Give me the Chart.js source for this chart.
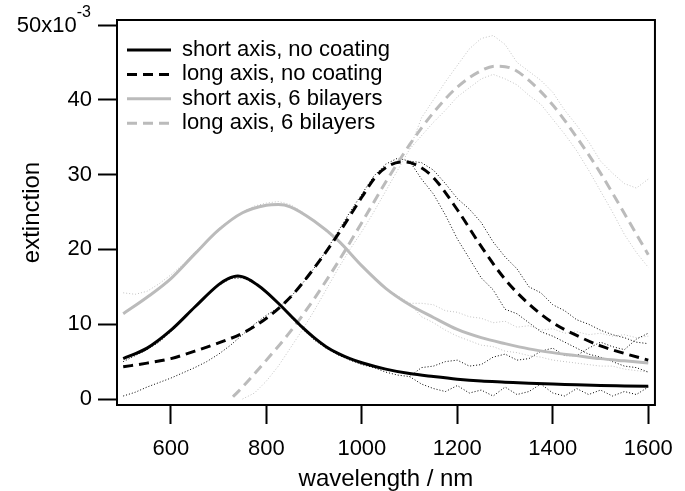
<!DOCTYPE html>
<html>
<head>
<meta charset="utf-8">
<script src="https://cdn.jsdelivr.net/npm/chart.js@4.4.0/dist/chart.umd.min.js"></script>
<style>
html, body { margin: 0; padding: 0; background: #fff; }
</style>
</head>
<body>
<canvas id="myChart" width="685" height="491"></canvas>
<script>
// fitted curves
var shortNoCoatX = [500,550,600,650,700,720,740,760,780,800,825,850,875,900,925,950,975,1000,1050,1100,1150,1200,1250,1300,1350,1400,1450,1500,1550,1600];
var shortNoCoatY = [5.4,6.8,9.2,12.3,15.3,16.1,16.45,16.1,15.3,14.3,12.8,11.2,9.6,8.2,7.0,6.1,5.4,4.85,4.0,3.4,3.0,2.65,2.4,2.25,2.1,2.0,1.9,1.8,1.75,1.7];

var longNoCoatX = [500,550,600,650,700,750,800,850,900,950,1000,1030,1060,1090,1120,1150,1200,1250,1300,1350,1400,1450,1500,1550,1600];
var longNoCoatY = [4.3,4.8,5.4,6.4,7.5,8.8,10.8,13.6,17.5,22.0,27.0,29.8,31.3,31.7,31.1,29.6,25.3,20.4,16.0,12.7,10.2,8.5,7.1,6.1,5.2];

var shortBilayerX = [500,550,600,650,700,750,800,825,850,900,950,1000,1050,1100,1150,1200,1250,1300,1350,1400,1450,1500,1550,1600];
var shortBilayerY = [11.4,13.6,16.1,19.4,22.6,24.9,25.9,26.0,25.7,23.8,21.2,17.8,14.8,12.6,10.9,9.3,8.2,7.4,6.7,6.2,5.8,5.4,5.1,4.8];

var longBilayerX = [730,750,800,850,900,950,1000,1050,1100,1150,1200,1250,1280,1310,1350,1400,1450,1500,1550,1600];
var longBilayerY = [0.3,1.6,5.2,9.0,13.4,18.3,23.6,29.0,34.0,38.3,41.7,43.9,44.5,44.3,42.6,39.3,35.0,30.2,24.8,19.3];

// measured spectra, clean part
var measX = [500,525,550,575,600,625,650,675,700,725,750,775,800,825,850,875,900,925,950,975,1000,1025,1050,1075,1100];
var shortNoCoatMeas = [5.0,5.8,6.6,7.6,9.0,10.6,12.2,14.0,15.2,16.1,16.2,15.5,14.2,12.8,11.0,9.4,7.9,6.8,5.9,5.2,4.6,4.2,3.6,3.2,3.0];
var longNoCoatMeas = [0.4,0.9,1.6,2.2,2.8,3.5,4.2,5.0,6.0,7.2,8.6,10.0,11.2,12.2,13.6,15.4,17.5,19.8,22.4,25.0,27.4,29.8,31.4,32.2,31.8];
var shortBilayerMeas = [14.2,14.0,14.4,15.4,16.6,18.0,19.6,21.2,22.8,24.0,25.0,25.8,26.2,26.4,26.0,25.0,23.8,22.4,21.0,19.4,17.8,16.2,14.8,13.8,12.8];
var longBilayerMeasX = [750,775,800,825,850,875,900,925,950,975,1000,1025,1050,1075,1100];
var longBilayerMeas = [0.0,0.8,2.4,4.4,6.8,9.2,11.8,14.6,17.4,20.0,22.4,25.0,27.8,30.6,33.4];

// measured spectra, noisy part (upper and lower traces)
var noiseX = [1100,1125,1150,1175,1200,1225,1250,1275,1300,1325,1350,1375,1400,1425,1450,1475,1500,1525,1550,1575,1600];
var shortNoCoatLow = [3.0,2.0,1.4,1.0,1.8,0.8,1.2,0.4,1.6,0.6,1.0,2.0,0.8,0.4,1.4,0.6,1.2,0.4,1.0,0.6,1.6];
var shortNoCoatHigh = [3.0,4.2,4.4,5.0,5.2,4.4,4.6,5.6,6.0,5.2,5.4,6.4,6.8,5.8,5.8,6.8,7.6,7.0,6.6,8.0,8.8];
var longNoCoatHigh = [31.8,31.6,30.6,28.8,26.8,25.4,23.6,21.0,19.0,17.4,15.0,14.2,12.6,11.8,10.6,10.0,9.2,8.6,8.2,7.6,7.4];
var longNoCoatLow = [31.8,29.4,27.4,24.6,21.4,18.8,16.2,14.6,12.0,11.4,10.2,9.0,8.4,7.6,6.8,6.0,5.6,5.0,4.4,4.2,3.6];
var shortBilayerHigh = [12.8,12.8,12.6,11.8,11.6,11.0,10.8,10.2,10.4,9.6,9.8,9.2,9.4,8.8,9.0,8.6,8.8,8.4,8.6,8.2,8.4];
var shortBilayerLow = [12.8,11.0,10.2,9.2,8.4,7.8,7.2,7.0,6.4,6.2,5.8,5.6,5.2,5.0,4.8,4.6,4.4,4.4,4.0,3.8,3.6];
var longBilayerHigh = [33.4,37.6,40.0,42.4,44.6,46.8,48.2,48.6,47.4,45.0,43.8,42.6,41.0,38.6,36.6,34.4,31.8,30.2,28.8,28.2,29.4];
var longBilayerLow = [33.4,35.2,37.0,38.6,40.4,41.6,42.8,43.4,42.8,42.0,40.6,39.4,37.4,35.4,33.2,30.6,27.8,25.0,22.0,19.6,17.6];

var xTicks = [600,800,1000,1200,1400,1600];
var yTicks = [0,10,20,30,40,50];

var font = '"Liberation Sans", Arial, Helvetica, sans-serif';
var grayFit = '#bbbbbb';
var grayDots = '#c2c2c2';

function toPoints(xs, ys) {
	var pts = [];
	for (var i = 0; i < xs.length; i++) {
		pts.push({ x: xs[i], y: ys[i] });
	}
	return pts;
}

function fitSet(label, xs, ys, color, dash) {
	return {
		label: label,
		data: toPoints(xs, ys),
		borderColor: color,
		borderWidth: 3,
		borderDash: dash,
		cubicInterpolationMode: 'monotone',
		pointRadius: 0,
		fill: false,
		inLegend: true
	};
}

function dotSet(xs, ys, color) {
	return {
		label: '',
		data: toPoints(xs, ys),
		borderColor: color,
		borderWidth: 1,
		borderDash: [1, 2],
		tension: 0,
		pointRadius: 0,
		fill: false
	};
}

var boxPlugin = {
	id: 'boxPlugin',
	afterDatasetsDraw: function(chart) {
		var ctx = chart.ctx;
		var a = chart.chartArea;
		ctx.save();
		// frame
		ctx.strokeStyle = '#000';
		ctx.lineWidth = 2;
		ctx.setLineDash([]);
		ctx.strokeRect(a.left, a.top, a.right - a.left, a.bottom - a.top);

		// legend
		ctx.font = '22px ' + font;
		ctx.textBaseline = 'middle';
		ctx.textAlign = 'left';
		var y = 50;
		chart.data.datasets.forEach(function(ds) {
			if (!ds.inLegend) return;
			ctx.strokeStyle = ds.borderColor;
			ctx.lineWidth = ds.borderWidth;
			ctx.setLineDash(ds.borderDash || []);
			ctx.beginPath();
			ctx.moveTo(127, y);
			ctx.lineTo(171, y);
			ctx.stroke();
			ctx.setLineDash([]);
			ctx.fillStyle = '#000';
			ctx.fillText(ds.label, 182, y);
			y += 24.4;
		});

		// top tick label with exponent
		var ys = chart.scales.y.getPixelForValue(50);
		ctx.font = '16px ' + font;
		ctx.textAlign = 'right';
		var supW = ctx.measureText('-3').width;
		ctx.fillText('-3', 91, ys - 12);
		ctx.font = '22px ' + font;
		ctx.fillText('50x10', 91 - supW, ys + 1);
		ctx.restore();
	}
};

var ctx = document.getElementById('myChart');

var myChart = new Chart(ctx, {
	type: 'line',
	data: {
		datasets: [
			fitSet('short axis, no coating', shortNoCoatX, shortNoCoatY, '#000', []),
			fitSet('long axis, no coating', longNoCoatX, longNoCoatY, '#000', [10, 6]),
			fitSet('short axis, 6 bilayers', shortBilayerX, shortBilayerY, grayFit, []),
			fitSet('long axis, 6 bilayers', longBilayerX, longBilayerY, grayFit, [10, 6]),
			dotSet(measX, shortNoCoatMeas, '#000'),
			dotSet(noiseX, shortNoCoatLow, '#000'),
			dotSet(noiseX, shortNoCoatHigh, '#000'),
			dotSet(measX, longNoCoatMeas, '#000'),
			dotSet(noiseX, longNoCoatHigh, '#000'),
			dotSet(noiseX, longNoCoatLow, '#000'),
			dotSet(measX, shortBilayerMeas, grayDots),
			dotSet(noiseX, shortBilayerHigh, grayDots),
			dotSet(noiseX, shortBilayerLow, grayDots),
			dotSet(longBilayerMeasX, longBilayerMeas, grayDots),
			dotSet(noiseX, longBilayerHigh, grayDots),
			dotSet(noiseX, longBilayerLow, grayDots)
		]
	},
	options: {
		responsive: false,
		animation: false,
		layout: { padding: { top: 20, right: 21, left: 0, bottom: 0 } },
		plugins: {
			legend: { display: false },
			tooltip: { enabled: false }
		},
		scales: {
			x: {
				type: 'linear',
				min: 487,
				max: 1614,
				afterBuildTicks: function(s) {
					s.ticks = xTicks.map(function(v) { return { value: v }; });
				},
				afterFit: function(s) { s.height = 86; },
				grid: { drawOnChartArea: false, drawTicks: true, tickLength: 19, tickWidth: 2, tickColor: '#000' },
				border: { display: true, color: '#000', width: 2 },
				ticks: {
					color: '#000',
					font: { family: font, size: 22 },
					padding: 12,
					maxRotation: 0,
					autoSkip: false,
					callback: function(v) { return String(v); }
				},
				title: { display: true, text: 'wavelength / nm', color: '#000', font: { family: font, size: 24, lineHeight: 1 }, padding: { top: 0, bottom: 0 } }
			},
			y: {
				min: -0.8,
				max: 50.67,
				afterBuildTicks: function(s) {
					s.ticks = yTicks.map(function(v) { return { value: v }; });
				},
				afterFit: function(s) { s.width = 117; },
				grid: { drawOnChartArea: false, drawTicks: true, tickLength: 19, tickWidth: 2, tickColor: '#000' },
				border: { display: true, color: '#000', width: 2 },
				ticks: {
					color: '#000',
					font: { family: font, size: 22 },
					padding: 6,
					callback: function(v) { return v === 50 ? '' : String(v); }
				},
				title: { display: true, text: 'extinction', color: '#000', font: { family: font, size: 24, lineHeight: 1 }, padding: { top: 20, bottom: 0 } }
			}
		}
	},
	plugins: [boxPlugin]
});
</script>
</body>
</html>
